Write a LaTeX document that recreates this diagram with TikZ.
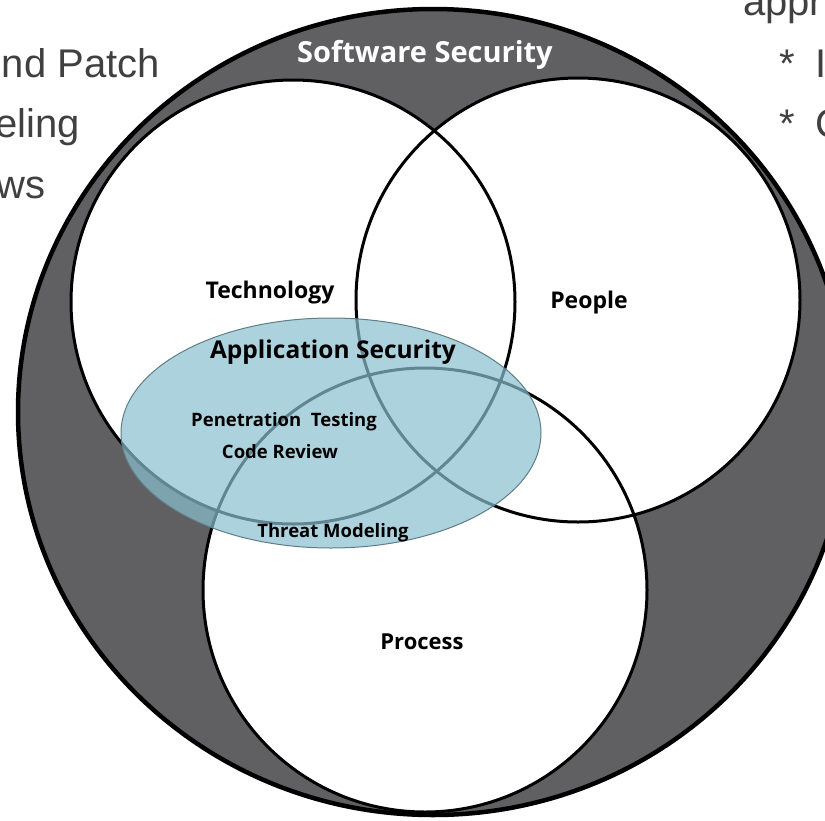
\documentclass[tikz,border=0pt]{standalone}
\usepackage{fontspec}
\setmainfont{Liberation Sans}
\newfontfamily\labelfont{Open Sans}
\usepackage{tikz}
\usepackage{color}
\definecolor{ringgray}{RGB}{96,96,98}
\definecolor{appblue}{RGB}{138,192,208}
\definecolor{appedge}{RGB}{95,125,135}
\definecolor{slidetext}{RGB}{64,64,64}

\begin{document}
\begin{tikzpicture}
[x=1pt,y=-1pt,
 ring/.style={draw=black,line width=3pt},
 tag/.style={font=\labelfont\bfseries\fontsize{#1}{#1}\selectfont,inner sep=0pt},
 slide/.style={font=\fontsize{40}{40}\selectfont,text=slidetext,inner sep=0pt},]

\useasboundingbox (0,0) rectangle (825,820);

\coordinate (O) at (433,412);
\coordinate (T) at (293,302);
\coordinate (P) at (578,300);
\coordinate (R) at (425,590);
\coordinate (A) at (331,433);
\def\rad{222pt}

\fill[ringgray] (O) ellipse (415pt and 403pt);
\fill[white] (T) circle (\rad);
\fill[white] (P) circle (\rad);
\fill[white] (R) circle (\rad);
\draw[ring] (T) circle (\rad);
\draw[ring] (P) circle (\rad);
\draw[ring] (R) circle (\rad);
\draw[black,line width=4.5pt] (O) ellipse (415pt and 403pt);

\fill[appblue,fill opacity=0.7] (A) ellipse (210pt and 115pt);
\draw[appedge,line width=1pt] (A) ellipse (210pt and 115pt);

\node[tag=29,text=white] (sw) at (425,55) {Software Security};
\node[tag=23] (tech) at (270,293) {Technology};
\node[tag=23] (ppl) at (589,303) {People};
\node[tag=24.5] (app) at (333,352) {Application Security};
\node[tag=18.5] (pen) at (284,422) {Penetration\ \ Testing};
\node[tag=18.5] (code) at (280,452) {Code Review};
\node[tag=18.5] (threat) at (333,533) {Threat Modeling};
\node[tag=22] (proc) at (422,642) {Process};

\node[slide,anchor=base east] (patch) at (160,77) {nd Patch};
\node[slide,anchor=base east] (model) at (80,137) {eling};
\node[slide,anchor=base east] (review) at (46,198) {ws};
\node[slide,anchor=base west] (appr) at (743,15) {appr};
\node[slide,anchor=base west] (star1) at (779,77) {*};
\node[slide,anchor=base west] (item1) at (815,77) {I};
\node[slide,anchor=base west] (star2) at (779,137) {*};
\node[slide,anchor=base west] (item2) at (815,137) {C};

\end{tikzpicture}
\end{document}
